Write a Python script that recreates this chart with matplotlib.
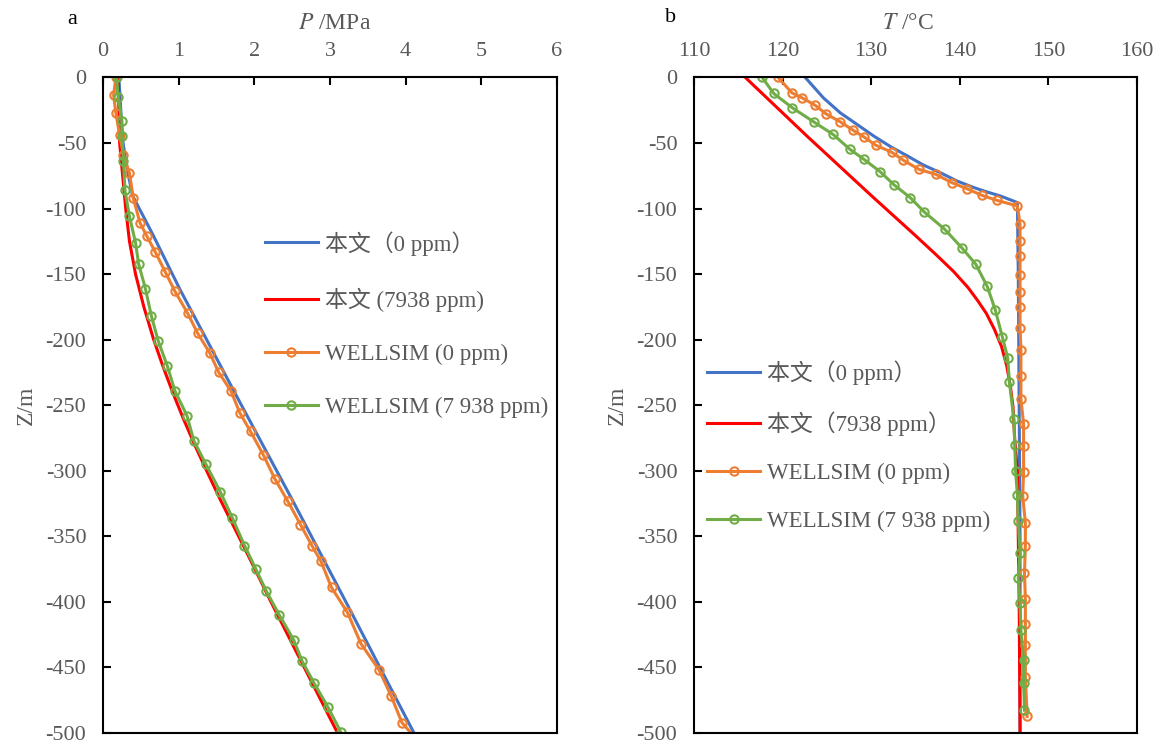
import matplotlib
matplotlib.use("Agg")
import matplotlib.pyplot as plt

plt.rcParams['font.family'] = ['Liberation Serif', 'Noto Sans CJK SC']
plt.rcParams['mathtext.fontset'] = 'stix'
plt.rcParams['axes.unicode_minus'] = False

GRAY = '#595959'
BLUE = '#4472C4'
RED = '#FF0000'
ORANGE = '#ED7D31'
GREEN = '#70AD47'

# ---------------- panel a: pressure ----------------
p_blue_z = [0, -25, -50, -70, -90, -120, -162, -200, -250, -322, -400, -450, -500]
p_blue = [0.21, 0.235, 0.265, 0.32, 0.39, 0.66, 1.02, 1.37, 1.83, 2.50, 3.21, 3.66, 4.11]

p_red_z = [0, -50, -100, -125, -150, -175, -200, -220, -240, -260, -280, -300, -322,
           -360, -400, -450, -500]
p_red = [0.20, 0.22, 0.30, 0.35, 0.43, 0.54, 0.67, 0.79, 0.92, 1.06, 1.21, 1.37, 1.55,
         1.88, 2.22, 2.66, 3.10]

p_orange_z = [0, -13.5, -27, -44, -59, -73, -92, -111, -121, -133, -148, -163, -180, -195,
              -210, -225, -239, -256, -270, -288, -306, -323, -341, -357, -369, -389, -408,
              -432, -452, -472, -492, -500]
p_orange = [0.17, 0.14, 0.17, 0.22, 0.27, 0.35, 0.40, 0.49, 0.58, 0.69, 0.82, 0.95, 1.12, 1.25,
            1.41, 1.53, 1.69, 1.81, 1.95, 2.12, 2.27, 2.44, 2.61, 2.76, 2.88, 3.02, 3.23,
            3.41, 3.65, 3.81, 3.95, 4.07]

p_green_z = [0, -15, -33, -45, -64, -86, -106, -126, -142, -161, -182, -201, -220, -239,
             -258, -277, -295, -316, -336, -357, -375, -392, -410, -429, -445, -462, -480, -499]
p_green = [0.18, 0.20, 0.25, 0.25, 0.27, 0.29, 0.35, 0.43, 0.47, 0.56, 0.64, 0.73, 0.85, 0.95,
           1.11, 1.20, 1.36, 1.55, 1.71, 1.87, 2.02, 2.16, 2.33, 2.52, 2.63, 2.79, 2.97, 3.14]

# ---------------- panel b: temperature ----------------
t_blue_z = [0, -15.5, -26.9, -35.8, -44.7, -52.8, -59.9, -66.8, -72.6, -79, -84, -87.4,
            -90.4, -95.4, -150, -250, -350, -500]
t_blue = [122.56, 124.6, 126.5, 128.4, 130.3, 132.2, 134.1, 135.9, 137.8, 139.7, 141.6, 143.1,
          144.6, 146.5, 146.6, 146.7, 146.8, 146.8]

t_red_z = [0, -45, -90, -120, -135, -148, -160, -170, -180, -192, -205, -220, -235, -251,
           -276, -300, -400, -500]
t_red = [115.8, 122.8, 130.0, 134.9, 137.3, 139.3, 140.9, 142.0, 143.0, 143.9, 144.7, 145.3,
         145.7, 146.0, 146.2, 146.5, 146.7, 146.8]

t_orange_z = [0, -11.7, -15.5, -21.3, -27.7, -33.8, -40.4, -45.4, -51.6, -56.9, -63, -70.1,
              -73.9, -80.2, -84.8, -89.9, -93.7, -98, -112, -125, -136.5, -150.6, -163.3,
              -174.7, -191.2, -207.7, -228, -245.3, -264.3, -281.4, -300.8, -319, -339.7,
              -357.5, -377.8, -397.6, -416.6, -433.1, -457, -487.4]
t_orange = [119.5, 121.05, 122.2, 123.7, 124.9, 126.5, 128.0, 129.2, 130.5, 132.3, 133.6, 135.4,
            137.3, 139.1, 140.8, 142.5, 144.2, 146.5, 146.8, 146.8, 146.8, 146.8, 146.8,
            146.8, 146.8, 146.9, 146.9, 146.9, 147.2, 147.2, 147.2, 147.1, 147.4,
            147.4, 147.3, 147.4, 147.4, 147.4, 147.4, 147.6]

t_green_z = [0, -12.2, -23.1, -33.8, -43.4, -54.8, -62.5, -71.8, -82, -91.6, -102.6, -115.8,
             -129.7, -142.4, -159.4, -177.2, -197.8, -213.6, -232.6, -260.6, -280.1, -300.4,
             -318.6, -338.4, -363, -381.8, -401.1, -421.5, -444.6, -462.1, -482.6]
t_green = [117.7, 119.0, 121.1, 123.5, 125.7, 127.6, 129.2, 131.0, 132.6, 134.4, 136.0, 138.3,
           140.2, 141.8, 143.1, 144.0, 144.8, 145.4, 145.6, 146.1, 146.2, 146.3,
           146.5, 146.6, 146.8, 146.6, 146.8, 146.9, 147.2, 147.2, 147.3]

labels_a = ['本文（0 ppm）', '本文 (7938 ppm)', 'WELLSIM (0 ppm)', 'WELLSIM (7 938 ppm)']
labels_b = ['本文（0 ppm）', '本文（7938 ppm）', 'WELLSIM (0 ppm)', 'WELLSIM (7 938 ppm)']

fig = plt.figure(figsize=(11.6, 7.45), dpi=100)
ax1 = fig.add_axes([103 / 1160, 1 - 733 / 745, 454 / 1160, 655.5 / 745])
ax2 = fig.add_axes([694 / 1160, 1 - 733 / 745, 443 / 1160, 655.5 / 745])

line_kw = dict(lw=2.2)
mk_kw = dict(lw=2.2, marker='o', ms=6, mfc='none', mew=1.5)

ax1.plot(p_blue, p_blue_z, color=BLUE, label=labels_a[0], **line_kw)
ax1.plot(p_red, p_red_z, color=RED, label=labels_a[1], **line_kw)
ax1.plot(p_orange, p_orange_z, color=ORANGE, label=labels_a[2], markevery=slice(0, -1), **mk_kw)
ax1.plot(p_green, p_green_z, color=GREEN, label=labels_a[3], **mk_kw)

ax2.plot(t_blue, t_blue_z, color=BLUE, label=labels_b[0], **line_kw)
ax2.plot(t_red, t_red_z, color=RED, label=labels_b[1], **line_kw)
ax2.plot(t_orange, t_orange_z, color=ORANGE, label=labels_b[2], **mk_kw)
ax2.plot(t_green, t_green_z, color=GREEN, label=labels_b[3], **mk_kw)

ax1.set_xlim(0, 6)
ax1.set_xticks(range(0, 7))
ax2.set_xlim(110, 160)
ax2.set_xticks(range(110, 161, 10))

for ax in (ax1, ax2):
    ax.set_ylim(-500, 0)
    ax.set_yticks(range(-500, 1, 50))
    ax.xaxis.tick_top()
    ax.xaxis.set_label_position('top')
    ax.tick_params(direction='in', length=6, width=1.5, labelsize=16,
                   labelcolor=GRAY, color='black')
    ax.tick_params(axis='x', pad=12)
    ax.tick_params(axis='y', pad=12)
    for s in ax.spines.values():
        s.set_linewidth(1.5)
        s.set_color('black')
    ax.set_ylabel('Z/m', fontsize=17, color=GRAY, labelpad=6)

ax1.set_xlabel(r'$\mathit{P}$ /MPa', fontsize=17, color=GRAY, labelpad=9)
ax2.set_xlabel(r'$\mathit{T}$ /°C', fontsize=17, color=GRAY, labelpad=9)
ax1.xaxis.label.set_x(0.511)
ax2.xaxis.label.set_x(0.483)

leg1 = ax1.legend(loc='upper left', bbox_to_anchor=(0.357, 0.766), frameon=False,
                  fontsize=16.5, handlelength=2.3, handletextpad=0.3,
                  labelspacing=1.39, borderpad=0, borderaxespad=0)
leg2 = ax2.legend(loc='upper left', bbox_to_anchor=(0.03, 0.569), frameon=False,
                  fontsize=16.5, handlelength=2.3, handletextpad=0.3,
                  labelspacing=1.17, borderpad=0, borderaxespad=0)
for leg in (leg1, leg2):
    for t in leg.get_texts():
        t.set_color(GRAY)

fig.text(72 / 1160, 1 - 19 / 745, 'a', fontsize=16, color='black', ha='center', va='center')
fig.text(671 / 1160, 1 - 18 / 745, 'b', fontsize=16, color='black', ha='center', va='center')

fig.savefig('out.png', dpi=100)
